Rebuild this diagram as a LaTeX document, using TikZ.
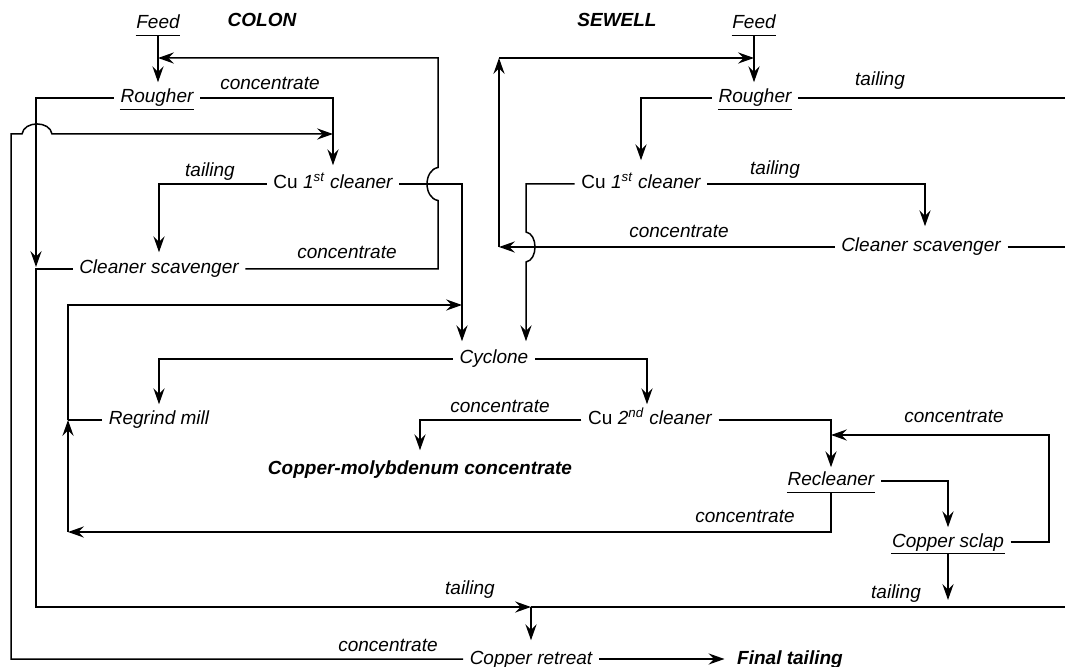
\documentclass[tikz,border=0pt]{standalone}
\usepackage{fontspec}
\setmainfont{Liberation Sans}
\usepackage{tikz}
\usetikzlibrary{arrows.meta,calc}
\newcommand{\flowfont}{\fontsize{9.5}{11.5}\selectfont}

\begin{document}
\begin{tikzpicture}[x=0.5pt,y=-0.5pt,line width=0.75pt,
  >={Stealth[length=8pt,width=5.6pt,inset=2.8pt]},
  unit/.style={font=\flowfont\itshape,inner xsep=3pt,inner ysep=1pt,text height=7pt,text depth=2pt},
  stream/.style={font=\flowfont\itshape,inner sep=0pt,text height=7pt,text depth=2pt},
  plant/.style={font=\flowfont\bfseries\itshape,inner sep=1pt,text height=7pt,text depth=2pt}]
\useasboundingbox (0,0) rectangle (1065,667);

%COLON circuit
\node[plant] (colon) at (262,22) {COLON};
\node[unit] (feedC) at (158,24) {Feed};
\node[unit] (rouC) at (157,98) {Rougher};
\node[unit] (cu1C) at (333,184) {{\upshape Cu} 1\textsuperscript{st} cleaner};
\node[unit] (csvC) at (159,269) {Cleaner scavenger};

%SEWELL circuit
\node[plant] (sewell) at (617,22) {SEWELL};
\node[unit] (feedS) at (754,24) {Feed};
\node[unit] (rouS) at (755,98) {Rougher};
\node[unit] (cu1S) at (641,184) {{\upshape Cu} 1\textsuperscript{st} cleaner};
\node[unit] (csvS) at (921,247) {Cleaner scavenger};

%common part
\node[unit] (cyc) at (494,359) {Cyclone};
\node[unit] (mill) at (159,420) {Regrind mill};
\node[unit] (cu2) at (650,420) {{\upshape Cu} 2\textsuperscript{nd} cleaner};
\node[plant] (cmc) at (420,470) {Copper-molybdenum concentrate};
\node[unit] (recl) at (831,481) {Recleaner};
\node[unit] (sclap) at (948,542) {Copper sclap};
\node[unit] (retreat) at (531,659) {Copper retreat};
\node[plant] (final) at (790,659) {Final tailing};

%stream labels
\node[stream] (conA) at (270,85) {concentrate};
\node[stream] (conB) at (347,254) {concentrate};
\node[stream] (conC) at (679,233) {concentrate};
\node[stream] (conD) at (500,408) {concentrate};
\node[stream] (conE) at (745,518) {concentrate};
\node[stream] (conF) at (954,418) {concentrate};
\node[stream] (conG) at (388,646) {concentrate};
\node[stream] (tlA) at (210,172) {tailing};
\node[stream] (tlB) at (880,81) {tailing};
\node[stream] (tlC) at (775,170) {tailing};
\node[stream] (tlD) at (470,590) {tailing};
\node[stream] (tlE) at (896,593) {tailing};

%underlines
\foreach \n in {feedC,rouC,feedS,rouS,recl,sclap}
  \draw ([xshift=3pt]\n.south west) -- ([xshift=-3pt]\n.south east);

%corners
\coordinate (rcyC) at (438,58);
\coordinate (jC) at (438,184);
\coordinate (rcyL) at (11,134);
\coordinate (jL) at (37,134);
\coordinate (tailL) at (36,607);
\coordinate (tailM) at (531,607);
\coordinate (edgeR) at (1065,0);
\coordinate (rcyS) at (499,58);
\coordinate (jS) at (526,247);
\coordinate (loopT) at (68,305);
\coordinate (loopM) at (68,420);
\coordinate (loopB) at (68,532);
\coordinate (scT) at (1049,435);
\coordinate (cycL) at ([xshift=-16pt,yshift=3pt]cyc.north);
\coordinate (cycR) at ([xshift=16pt,yshift=3pt]cyc.north);

%feeds
\draw[->,shorten >=2pt] (feedC.south) -- (feedC.south |- rouC.north);
\draw[->,shorten >=2pt] (feedS.south) -- (feedS.south |- rouS.north);

%COLON rougher
\draw[->,shorten >=3.5pt] (rouC.east) -| (cu1C.north);
\draw[->] (rouC.west) -| ($(tailL |- csvC.west)+(0,-2)$);
\draw[->] (csvC.west) -| (tailL) -- (tailM);
\draw[->,shorten >=3.5pt] (tailM) -- (retreat.north);
\draw (tailM) -- (tailM -| edgeR);

%copper retreat concentrate back to Cu 1st cleaner
\draw[->] (retreat.west) -| (rcyL) -- ([xshift=-7.5pt]jL)
  .. controls ([xshift=-6.5pt,yshift=6.7pt]jL) and ([xshift=6.5pt,yshift=6.7pt]jL) .. ([xshift=7.5pt]jL)
  -- (cu1C.north |- rcyL);

%COLON Cu 1st cleaner
\draw[->,shorten >=2.5pt] (cu1C.west) -| (csvC.north);
\draw[->] (cu1C.east) -| (cycL);

%COLON cleaner scavenger back to rougher
\draw[->] (csvC.east) -| ([yshift=-8.25pt]jC)
  .. controls ([xshift=-7.3pt,yshift=-7pt]jC) and ([xshift=-7.3pt,yshift=7pt]jC) .. ([yshift=8.25pt]jC)
  -- (rcyC) -- (feedC.south |- rcyC);

%SEWELL rougher
\draw[->,shorten >=6pt] (rouS.west) -| (cu1S.north);
\draw (rouS.east) -- (rouS.east -| edgeR);

%SEWELL Cu 1st cleaner
\draw[->,shorten >=4.5pt] (cu1S.east) -| ([xshift=2pt]csvS.north);
\draw[->] (cu1S.west) -| ([yshift=7.5pt]jS)
  .. controls ([xshift=6pt,yshift=6.5pt]jS) and ([xshift=6pt,yshift=-6.5pt]jS) .. ([yshift=-7.5pt]jS)
  -- (cycR);

%SEWELL cleaner scavenger
\draw[->] (csvS.west) -- (csvS.west -| rcyS);
\draw[->] (csvS.west -| rcyS) -- (rcyS);
\draw[->] (rcyS) -- (feedS.south |- rcyS);
\draw (csvS.east) -- (csvS.east -| edgeR);

%Cyclone
\draw[->,shorten >=2pt] (cyc.west) -| (mill.north);
\draw[->,shorten >=2pt] (cyc.east) -| ([xshift=-1.5pt]cu2.north);

%Regrind mill loop
\draw (mill.west) -- (loopM);
\draw[->] (loopM) -- (loopT) -- (cycL |- loopT);
\draw[->] (recl.south) |- (loopB);
\draw[->] (loopB) -- (loopM);

%Cu 2nd cleaner
\draw[->,shorten >=4pt] (cu2.west) -| (cmc.north);
\draw[->,shorten >=1pt] (cu2.east) -| (recl.north);

%Recleaner and copper sclap
\draw[->,shorten >=1.5pt] (recl.east) -| (sclap.north);
\draw[->] (sclap.east) -| (scT) -- (recl.north |- scT);
\draw[->] (sclap.south) -- ($(sclap.south |- tailM)+(0,-7)$);

%final tailing
\draw[->,shorten >=5pt] (retreat.east) -- (final.west);
\end{tikzpicture}
\end{document}
